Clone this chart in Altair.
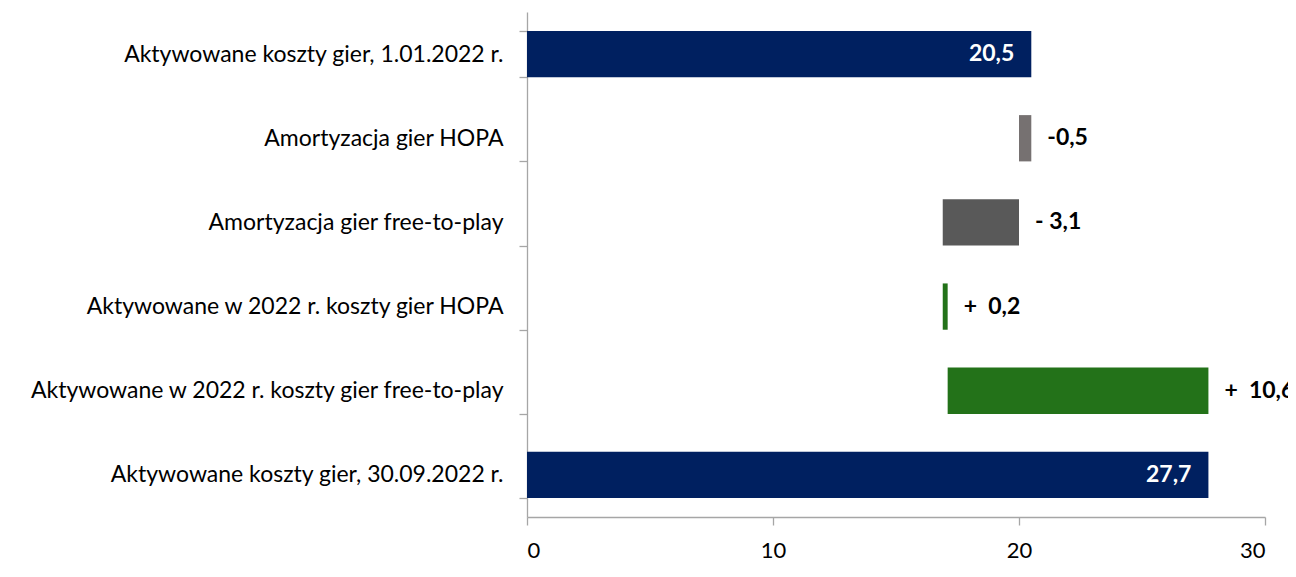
import altair as alt
import pandas as pd

categories = [
    "Aktywowane koszty gier, 1.01.2022 r.",
    "Amortyzacja gier HOPA",
    "Amortyzacja gier free-to-play",
    "Aktywowane w 2022 r. koszty gier HOPA",
    "Aktywowane w 2022 r. koszty gier free-to-play",
    "Aktywowane koszty gier, 30.09.2022 r.",
]
starts = [0, 20.5, 20.0, 16.9, 17.1, 0]
ends = [20.5, 20.0, 16.9, 17.1, 27.7, 27.7]
labels = ["20,5", "-0,5", "- 3,1", "+\u00a0\u00a00,2", "+\u00a0\u00a010,6", "27,7"]
kinds = ["total", "minus_hopa", "minus_f2p", "plus", "plus", "total"]
inside = [True, False, False, False, False, True]

kind_domain = ["total", "minus_hopa", "minus_f2p", "plus"]
kind_colors = ["#002060", "#767171", "#595959", "#237219"]

df = pd.DataFrame({
    "cat": categories,
    "start": starts,
    "end": ends,
    "label": labels,
    "kind": kinds,
    "inside": inside,
})
df["hi"] = df[["start", "end"]].max(axis=1)

FONT = "Lato"

y = alt.Y("cat:N", sort=categories, title=None,
          scale=alt.Scale(paddingInner=0.45, paddingOuter=0.225),
          axis=alt.Axis(tickBand="extent", tickSize=8, tickColor="#a6a6a6",
                        domainColor="#a6a6a6", domainWidth=1.3, tickWidth=1.3,
                        labelFont=FONT, labelFontSize=23, labelColor="#000000",
                        labelPadding=16, labelLimit=600))
x = alt.X("start:Q", title=None,
          scale=alt.Scale(domain=[0, 30], nice=False),
          axis=alt.Axis(values=[0, 10, 20, 30], tickSize=8, tickColor="#a6a6a6",
                        domainColor="#a6a6a6", domainWidth=1.3, tickWidth=1.3,
                        grid=False, labelFont=FONT, labelFontSize=22,
                        labelColor="#000000", labelPadding=15))

base = alt.Chart(df)

bars = base.mark_bar().encode(
    y=y,
    x=x,
    x2="end:Q",
    color=alt.Color("kind:N", scale=alt.Scale(domain=kind_domain, range=kind_colors), legend=None),
)

text_in = base.transform_filter("datum.inside").mark_text(
    align="right", baseline="middle", dx=-17, font=FONT, fontSize=23,
    fontWeight="bold", color="white"
).encode(y=alt.Y("cat:N", sort=categories), x=alt.X("hi:Q"), text="label:N")

text_out = base.transform_filter("!datum.inside").mark_text(
    align="left", baseline="middle", dx=16, font=FONT, fontSize=23,
    fontWeight="bold", color="black"
).encode(y=alt.Y("cat:N", sort=categories), x=alt.X("hi:Q"), text="label:N")

chart = alt.layer(bars, text_in, text_out).properties(
    width=738, height=505,
    autosize=alt.AutoSizeParams(type="none"),
    padding={"left": 519, "top": 4, "right": 23, "bottom": 52},
).configure_view(stroke=None)

chart.save("out.html", embed_options={"renderer": "svg", "actions": False})
